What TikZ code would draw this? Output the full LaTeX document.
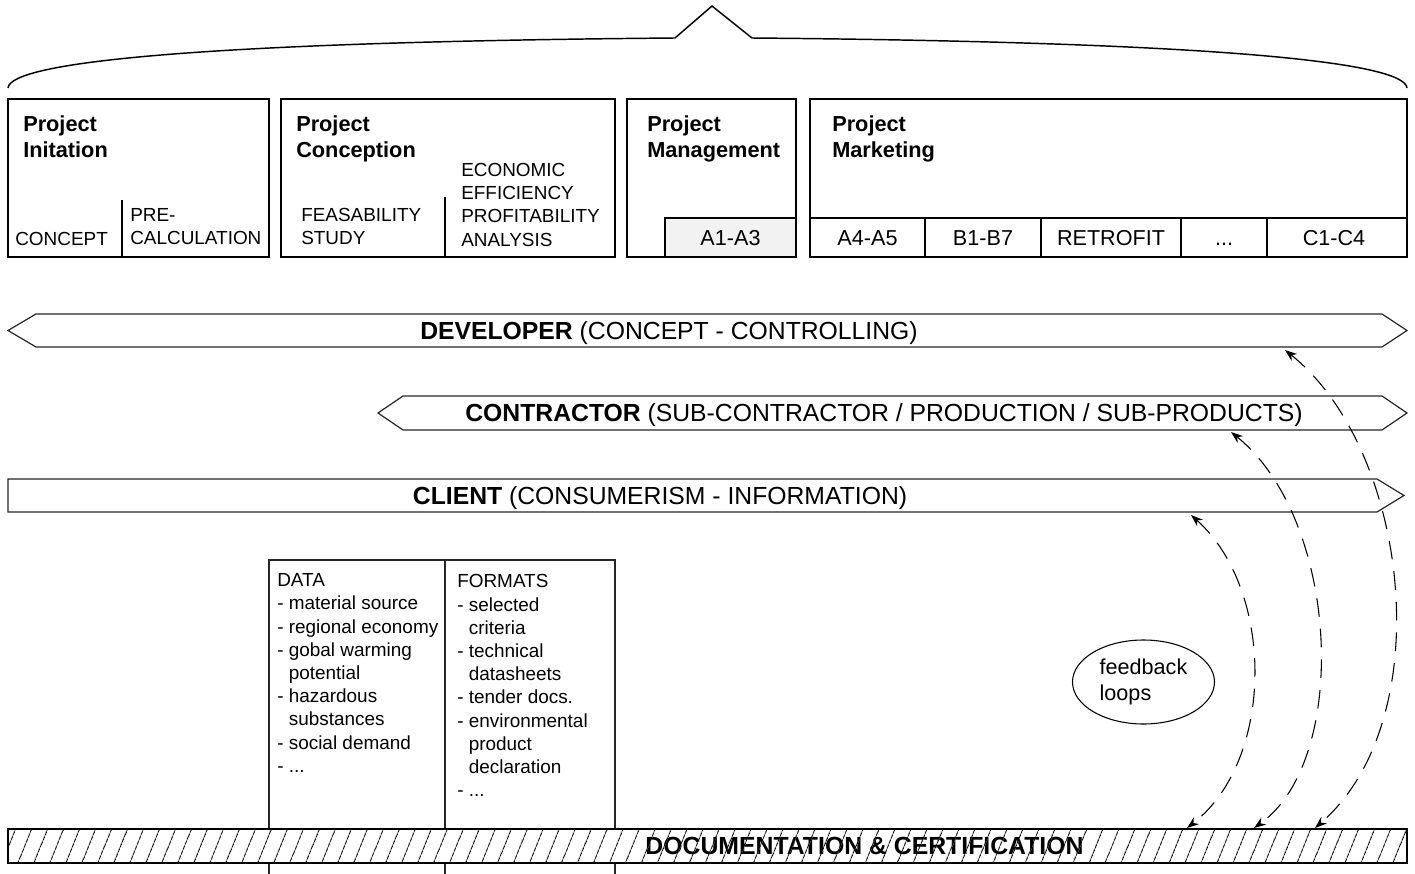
\documentclass[tikz,border=0pt]{standalone}
\usepackage{fontspec}
\setmainfont{Liberation Sans}
\usetikzlibrary{patterns.meta,arrows.meta,shapes.geometric}
\newcommand\ind{\phantom{- }}
\tikzset{
  box/.style={draw=black, line width=2pt},
  div/.style={draw=black, line width=1.4pt},
  band/.style={draw=black!85, line width=0.9pt, fill=white},
  thinline/.style={draw=black!85, line width=0.8pt},
  smalltxt/.style={font=\fontsize{14.2}{17.4}\selectfont, inner sep=0pt, align=left},
  medtxt/.style={font=\fontsize{16.2}{19.5}\selectfont, inner sep=0pt},
  titletxt/.style={font=\fontsize{16.3}{19.5}\selectfont\bfseries, inner sep=0pt, align=left, anchor=north west},
  bandtxt/.style={font=\fontsize{18.55}{21}\selectfont, inner sep=0pt, anchor=base},
  loop/.style={draw=black, line width=0.8pt, dash pattern=on 14pt off 9pt, {Stealth[length=9pt,width=6.5pt]}-{Stealth[length=9pt,width=6.5pt]}},
}
\begin{document}
\begin{tikzpicture}[x=0.75pt,y=-0.75pt]
\useasboundingbox (0,0) rectangle (1415,874);

% brace
\draw[line width=1.1pt, line join=miter] (8,88) .. controls (10,62) and (200,42) .. (675,38) -- (712,6) -- (752,38) .. controls (1215,42) and (1405,62) .. (1407,88);

% Box 1
\draw[box] (8,99) rectangle (269,257);
\draw[div] (122,200) -- (122,257);
\node[titletxt] (t1) at (23,115) {Project\\Initation};
\node[smalltxt, anchor=base west] (c1) at (15,245) {CONCEPT};
\node[smalltxt, anchor=north west] (c2) at (130,208) {PRE-\\CALCULATION};

% Box 2
\draw[box] (281,99) rectangle (615,257);
\draw[div] (445,197) -- (445,257);
\node[titletxt] (t2) at (296,115) {Project\\Conception};
\node[smalltxt, anchor=north west] (c3) at (301,208) {FEASABILITY\\STUDY};
\node[smalltxt, anchor=north west] (c4) at (461,163) {ECONOMIC\\EFFICIENCY\\PROFITABILITY\\ANALYSIS};

% Box 3
\draw[div, fill=black!5] (665,218) rectangle (796,257);
\draw[box] (627,99) rectangle (796,257);
\node[titletxt] (t3) at (647,115) {Project\\Management};
\node[medtxt, anchor=base] (m1) at (730.5,245) {A1-A3};

% Box 4
\draw[box] (810,99) rectangle (1407,257);
\draw[div] (810,218) -- (1407,218);
\foreach \x in {925,1041,1181,1267} \draw[div] (\x,218) -- (\x,257);
\node[titletxt] (t4) at (832,115) {Project\\Marketing};
\node[medtxt, anchor=base] (m2) at (867.5,245) {A4-A5};
\node[medtxt, anchor=base] (m3) at (983,245) {B1-B7};
\node[medtxt, anchor=base] (m4) at (1111,245) {RETROFIT};
\node[medtxt, anchor=base] (m5) at (1224,245) {...};
\node[medtxt, anchor=base] (m6) at (1334,245) {C1-C4};

% Bands
\draw[band] (8,330.5) -- (36,314) -- (1382,314) -- (1407,330.5) -- (1382,347) -- (36,347) -- cycle;
\node[bandtxt] (dev) at (669,339) {\textbf{DEVELOPER} (CONCEPT - CONTROLLING)};
\draw[band] (378,413) -- (403,396) -- (1382,396) -- (1407,413) -- (1382,430) -- (403,430) -- cycle;
\node[bandtxt] (con) at (884,421.5) {\textbf{CONTRACTOR} (SUB-CONTRACTOR / PRODUCTION / SUB-PRODUCTS)};
\draw[band] (8,479) -- (1377,479) -- (1404,495.5) -- (1377,512) -- (8,512) -- cycle;
\node[bandtxt] (cli) at (660,504) {\textbf{CLIENT} (CONSUMERISM - INFORMATION)};

% Data / formats
\draw[thinline] (269,874) -- (269,560) -- (615,560) -- (615,874);
\draw[thinline] (445,560) -- (445,874);
\node[smalltxt, anchor=north west] (data) at (277,573.5) {DATA\\- material source\\- regional economy\\- gobal warming\\\ind potential\\- hazardous\\\ind substances\\- social demand\\- ...};
\node[smalltxt, anchor=north west] (fmt) at (457,574.5) {FORMATS\\- selected\\\ind criteria\\- technical\\\ind datasheets\\- tender docs.\\- environmental\\\ind product\\\ind declaration\\- ...};

% Documentation bar
\fill[white] (8,829) rectangle (1407,863);
\node[bandtxt, font=\fontsize{18.6}{21}\selectfont\bfseries] (doc) at (864.5,854.5) {DOCUMENTATION \& CERTIFICATION};
\path[pattern={Lines[angle=68, distance=10.5pt, line width=0.75pt]}] (8,829) rectangle (1407,863);
\draw[line width=2pt] (8,829) rectangle (1407,863);

% feedback
\node[ellipse, draw=black, line width=0.8pt, minimum width=106.5pt, minimum height=63pt, inner sep=0pt, align=left, font=\fontsize{16.2}{19.5}\selectfont] (fb) at (1143.5,682) {feedback\\loops};

\coordinate (a1s) at (1191,515);
\coordinate (a1e) at (1187,828);
\coordinate (a2s) at (1231,432);
\coordinate (a2e) at (1254,828);
\coordinate (a3s) at (1285,350);
\coordinate (a3e) at (1315,828);
\draw[loop] (a1s) .. controls (1275,590) and (1275,760) .. (a1e);
\draw[loop] (a2s) .. controls (1340,520) and (1350,760) .. (a2e);
\draw[loop] (a3s) .. controls (1410,450) and (1440,720) .. (a3e);
\end{tikzpicture}
\end{document}
